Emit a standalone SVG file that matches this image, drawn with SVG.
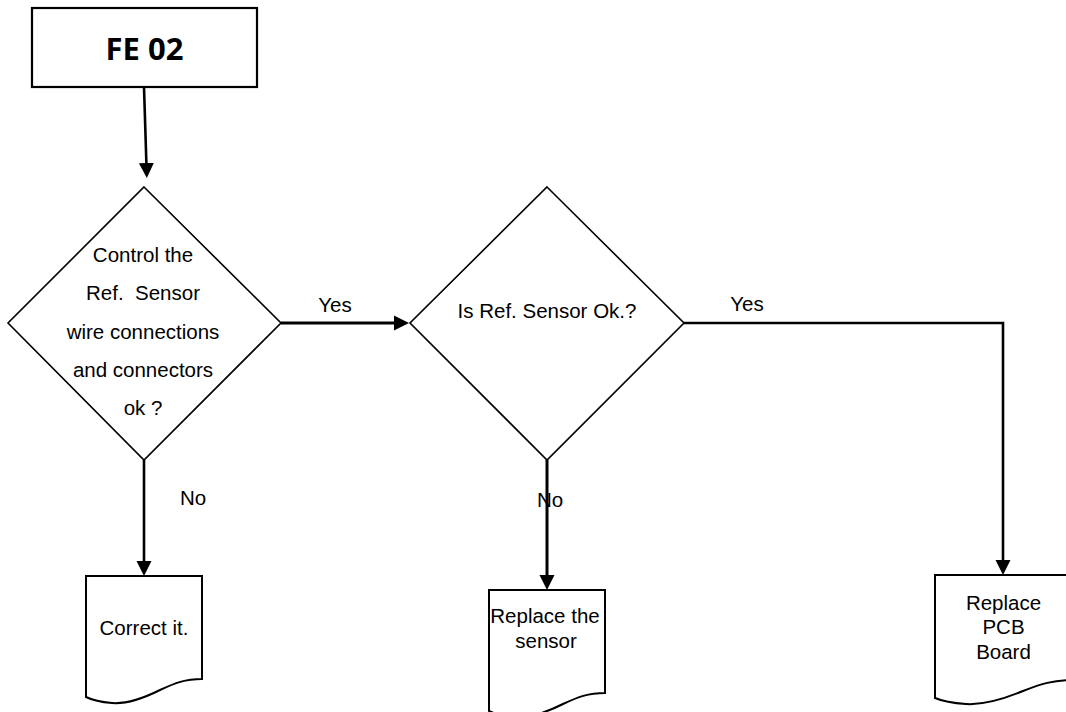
<svg xmlns="http://www.w3.org/2000/svg" width="1066" height="712" viewBox="0 0 1066 712">
<style>
.shape{fill:#fff;stroke:#000;stroke-width:1.6}
.doc{fill:#fff;stroke:#000;stroke-width:2}
.t{font-family:"Liberation Sans",Arial,sans-serif;font-size:20.5px;fill:#000;text-anchor:middle;white-space:pre}
.title{font-family:"Open Sans","Noto Sans",sans-serif;font-weight:700;font-size:31px;fill:#000;text-anchor:middle}
.c{fill:none;stroke:#000;stroke-width:2.6}
</style>
<defs>
<marker id="ah" markerUnits="userSpaceOnUse" markerWidth="16" markerHeight="16" viewBox="0 0 16 16" refX="10" refY="8" orient="auto">
<path d="M0,0.5 L15,8 L0,15.5 Z" fill="#000"/>
</marker>
</defs>
<rect width="1066" height="712" fill="#fff"/>
<g id="connectors">
<path class="c" d="M144,87 L146.7,173" marker-end="url(#ah)"/>
<path class="c" style="stroke-width:3.2" d="M281,323 H404" marker-end="url(#ah)"/>
<path class="c" d="M144,460 V571" marker-end="url(#ah)"/>
<path class="c" style="stroke-width:3" d="M547,460 V585" marker-end="url(#ah)"/>
<path class="c" d="M684,323 H1003 V570" marker-end="url(#ah)"/>
</g>
<g id="start">
<rect x="32" y="8" width="225" height="79" fill="#fff" stroke="#000" stroke-width="2.2"/>
<text class="title" x="144.5" y="59.5">FE 02</text>
</g>
<g id="decision1">
<path class="shape" d="M144,187 L281,323 L144,460 L8,323 Z"/>
<text class="t" x="143" y="262">Control the</text>
<text class="t" x="143" y="300" xml:space="preserve">Ref.  Sensor</text>
<text class="t" x="143" y="339">wire connections</text>
<text class="t" x="143" y="377">and connectors</text>
<text class="t" x="143" y="415">ok ?</text>
</g>
<g id="decision2">
<path class="shape" d="M547,187 L684,323 L547,460 L410,323 Z"/>
<text class="t" x="547" y="318">Is Ref. Sensor Ok.?</text>
</g>
<g id="doc1">
<path class="doc" d="M86,576 H202 V679 C185,679 175,683 160,690 C140,700 125,704 112,703 C100,702 92,700 86,697 Z"/>
<text class="t" x="144" y="635">Correct it.</text>
</g>
<g id="doc2">
<path class="doc" d="M489,590 H605 V693 C588,693 578,697 563,704 C543,714 528,718 515,717 C503,716 495,714 489,711 Z"/>
<text class="t" x="545" y="623">Replace the</text>
<text class="t" x="546" y="648">sensor</text>
</g>
<g id="doc3">
<path class="doc" d="M935,575 H1073 V680 C1053,680 1041,684 1023,691 C999,701 981,705 966,704 C952,703 942,701 935,698 Z"/>
<text class="t" x="1003.5" y="610">Replace</text>
<text class="t" x="1003.5" y="634">PCB</text>
<text class="t" x="1003.5" y="659">Board</text>
</g>
<g id="labels">
<text class="t" x="335" y="311.5">Yes</text>
<text class="t" x="747" y="310.5">Yes</text>
<text class="t" x="193" y="504.5">No</text>
<text class="t" x="550" y="506.5">No</text>
</g>
</svg>
